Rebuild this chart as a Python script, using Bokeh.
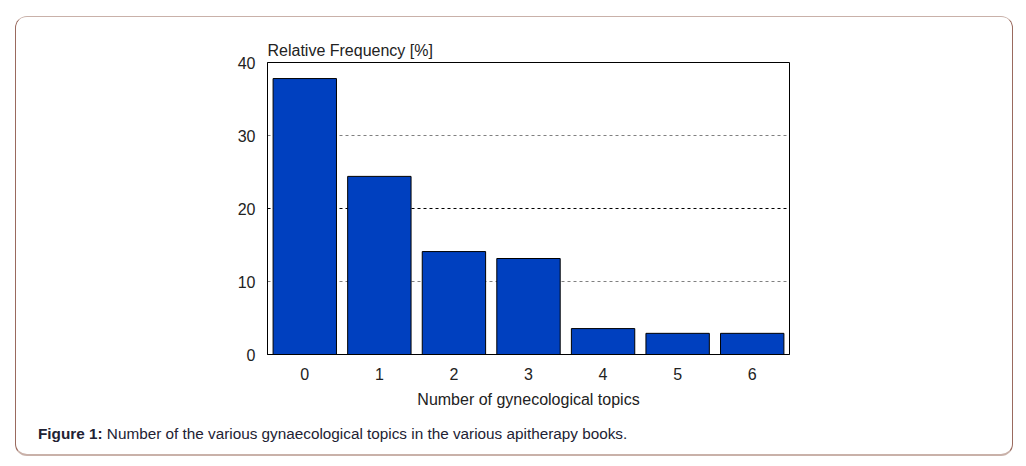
from bokeh.plotting import figure
from bokeh.models import FactorRange, Range1d, FixedTicker, Grid, Div
from bokeh.layouts import column
from bokeh.embed import file_html
from bokeh.resources import INLINE

# ---- data ----
categories = ["0", "1", "2", "3", "4", "5", "6"]
rel_freq = [37.8, 24.4, 14.1, 13.15, 3.55, 2.9, 2.9]
y_ticks = [0, 10, 20, 30, 40]
y_label = "Relative Frequency [%]"
x_label = "Number of gynecological topics"
caption_bold = "Figure 1:"
caption_text = "Number of the various gynaecological topics in the various apitherapy books."

FONT = "Liberation Sans"

fig = figure(width=995, height=393, x_range=FactorRange(*categories), y_range=Range1d(0, 40),
             output_backend="svg", toolbar_location=None,
             min_border_left=251, min_border_right=222, min_border_top=45, min_border_bottom=56)
fig.background_fill_color = "white"
fig.border_fill_color = "white"
fig.outline_line_color = "black"
fig.outline_line_width = 1

# title used as the y label (above the frame, left aligned)
fig.title.text = y_label
fig.title.align = "left"
fig.title.text_font = FONT
fig.title.text_font_size = "16px"
fig.title.text_font_style = "normal"
fig.title.text_color = "#222222"
fig.title.offset = 0
fig.title.standoff = 8

fig.vbar(x=categories, top=rel_freq, width=0.85, fill_color="#0040bf", line_color="black", line_width=1)

# axes
fig.yaxis.ticker = FixedTicker(ticks=y_ticks)
for ax in (fig.xaxis[0], fig.yaxis[0]):
    ax.major_tick_line_color = None
    ax.minor_tick_line_color = None
    ax.axis_line_color = "black"
    ax.axis_line_width = 1
    ax.major_label_text_font = FONT
    ax.major_label_text_font_size = "16px"
    ax.major_label_text_color = "#222222"
fig.yaxis.major_label_standoff = 6
fig.xaxis.major_label_standoff = 7
fig.xaxis.axis_label = x_label
fig.xaxis.axis_label_text_font = FONT
fig.xaxis.axis_label_text_font_size = "16px"
fig.xaxis.axis_label_text_font_style = "normal"
fig.xaxis.axis_label_text_color = "#222222"
fig.xaxis.axis_label_standoff = 8

# grid
fig.xgrid.grid_line_color = None
fig.ygrid.ticker = FixedTicker(ticks=[10, 30])
fig.ygrid.grid_line_color = "#808080"
fig.ygrid.grid_line_dash = "3 3"
g20 = Grid(dimension=1, ticker=FixedTicker(ticks=[20]), grid_line_color="black", grid_line_dash="3 3")
fig.add_layout(g20)

caption = Div(text=f"<b>{caption_bold}</b> {caption_text}", width=995, height=44,
              styles={"font-family": FONT, "font-size": "15.3px", "color": "#222233",
                      "padding-left": "17px", "padding-top": "8px", "box-sizing": "border-box"})

p = column(fig, caption, spacing=0, width=998, height=440, sizing_mode="fixed",
           margin=(16, 0, 0, 15),
           styles={"box-sizing": "border-box",
                   "border-top": "1px solid #c9b1a9", "border-bottom": "2px solid #c9b1a9",
                   "border-left": "1.5px solid #9a6a5e", "border-right": "1.5px solid #9a6a5e",
                   "border-radius": "12px", "overflow": "hidden", "background": "white"})

open("out.html", "w").write(file_html(p, INLINE))
